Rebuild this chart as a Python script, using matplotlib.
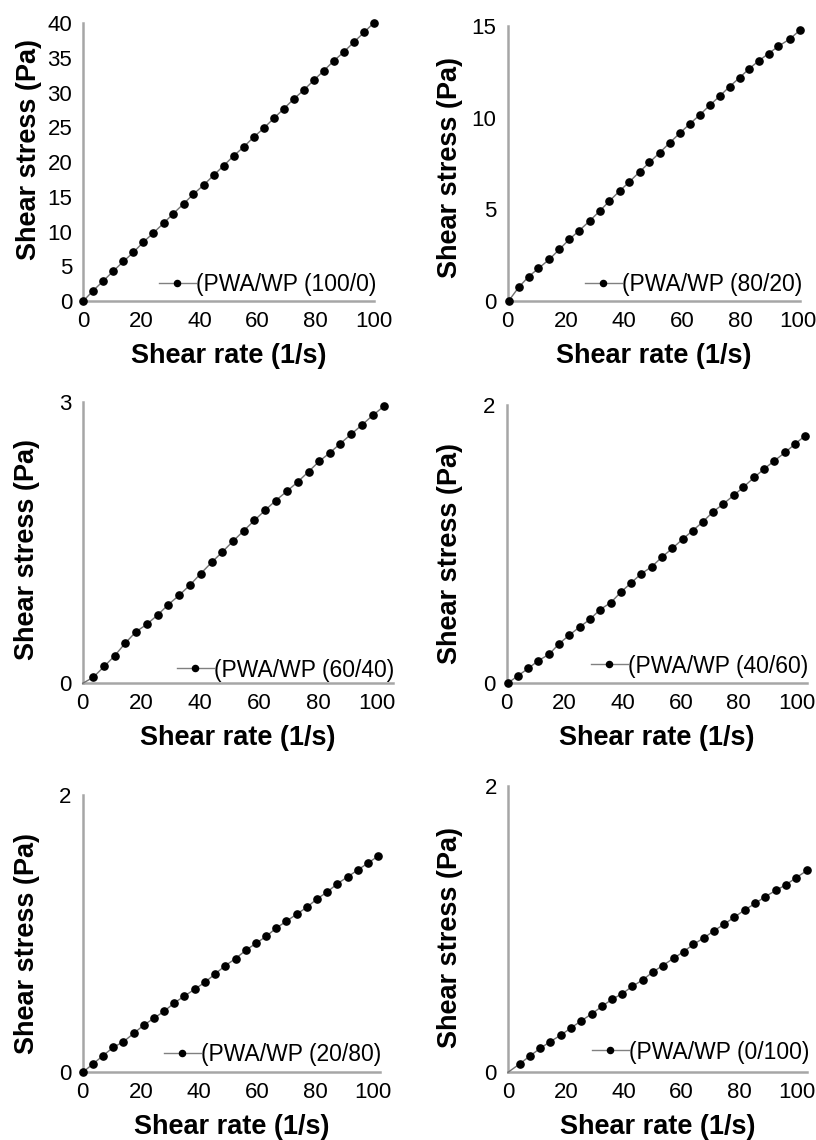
import matplotlib
matplotlib.use("Agg")
import matplotlib.pyplot as plt

plt.rcParams['font.family'] = ['Liberation Sans', 'DejaVu Sans']

# ---- data ----
labels = ["(PWA/WP (100/0)", "(PWA/WP (80/20)", "(PWA/WP (60/40)",
          "(PWA/WP (40/60)", "(PWA/WP (20/80)", "(PWA/WP (0/100)"]

x1 = [0, 3.4, 6.9, 10.3, 13.8, 17.2, 20.7, 24.1, 27.6, 31.0, 34.5, 37.9, 41.4, 44.8, 48.3,
      51.7, 55.2, 58.6, 62.1, 65.5, 69.0, 72.4, 75.9, 79.3, 82.8, 86.2, 89.7, 93.1, 96.6, 100.0]
y1 = [0, 1.5, 2.9, 4.3, 5.7, 7.0, 8.5, 9.8, 11.2, 12.6, 14.0, 15.4, 16.7, 18.1, 19.5,
      20.9, 22.2, 23.6, 24.9, 26.3, 27.7, 29.1, 30.4, 31.8, 33.2, 34.6, 35.9, 37.3, 38.7, 40.1]

x2 = [0.3, 3.8, 7.2, 10.6, 14.3, 17.8, 21.2, 24.6, 28.3, 31.8, 35.0, 38.5, 41.9, 45.4, 48.8,
      52.3, 55.7, 59.2, 62.6, 66.1, 69.5, 73.0, 76.4, 79.8, 82.9, 86.4, 89.8, 93.2, 97.2, 100.6]
y2 = [0, 0.75, 1.33, 1.78, 2.27, 2.82, 3.36, 3.84, 4.38, 4.93, 5.45, 6.0, 6.5, 7.05, 7.56,
      8.09, 8.62, 9.15, 9.65, 10.15, 10.67, 11.18, 11.7, 12.18, 12.64, 13.1, 13.5, 13.9, 14.3, 14.78]

x3 = [0, 3.6, 7.3, 10.9, 14.5, 18.1, 21.8, 25.5, 29.1, 32.8, 36.5, 40.1, 43.8, 47.4, 51.2,
      54.8, 58.4, 62.1, 65.6, 69.4, 73.1, 76.8, 80.4, 84.0, 87.6, 91.3, 95.0, 98.6, 102.5]
y3 = [0, 0.064, 0.18, 0.295, 0.43, 0.55, 0.63, 0.73, 0.84, 0.94, 1.05, 1.17, 1.29, 1.40, 1.52,
      1.63, 1.74, 1.85, 1.95, 2.05, 2.15, 2.26, 2.37, 2.46, 2.56, 2.66, 2.76, 2.86, 2.96]

x4 = [0.3, 3.8, 7.5, 10.9, 14.6, 18.0, 21.6, 25.3, 28.7, 32.2, 35.9, 39.3, 42.8, 46.3, 50.0,
      53.4, 57.1, 60.6, 64.1, 67.6, 71.0, 74.7, 78.2, 81.6, 85.3, 88.7, 92.3, 96.0, 99.4, 102.9]
y4 = [0, 0.053, 0.108, 0.163, 0.208, 0.283, 0.347, 0.407, 0.46, 0.53, 0.58, 0.654, 0.72, 0.786, 0.838,
      0.905, 0.97, 1.035, 1.097, 1.16, 1.23, 1.29, 1.35, 1.41, 1.48, 1.54, 1.60, 1.66, 1.72, 1.78]

x5 = [0, 3.5, 7.0, 10.5, 14.0, 17.5, 21.0, 24.5, 28.0, 31.5, 35.0, 38.6, 42.1, 45.6, 49.1,
      52.6, 56.1, 59.6, 63.1, 66.6, 70.1, 73.6, 77.1, 80.6, 84.1, 87.6, 91.2, 94.7, 98.2, 101.7]
y5 = [0, 0.06, 0.12, 0.18, 0.22, 0.28, 0.34, 0.39, 0.44, 0.50, 0.55, 0.60, 0.65, 0.71, 0.77,
      0.82, 0.88, 0.93, 0.98, 1.04, 1.09, 1.14, 1.19, 1.25, 1.30, 1.36, 1.41, 1.46, 1.51, 1.56]

x6 = [0, 4.0, 7.7, 11.2, 14.6, 18.3, 21.8, 25.4, 29.1, 32.5, 36.0, 39.6, 43.0, 46.6, 50.1,
      53.5, 57.3, 60.8, 64.2, 67.9, 71.4, 74.9, 78.3, 81.9, 85.6, 89.0, 92.7, 96.2, 99.8, 103.5]
y6 = [0, 0.058, 0.116, 0.168, 0.214, 0.26, 0.31, 0.36, 0.41, 0.46, 0.51, 0.55, 0.60, 0.645, 0.70,
      0.745, 0.796, 0.843, 0.894, 0.94, 0.99, 1.036, 1.083, 1.134, 1.18, 1.227, 1.27, 1.31, 1.36, 1.41]

xs = [x1, x2, x3, x4, x5, x6]
ys = [y1, y2, y3, y4, y5, y6]
yticks = [[0, 5, 10, 15, 20, 25, 30, 35, 40], [0, 5, 10, 15], [0, 3], [0, 2], [0, 2], [0, 2]]
ylims = [40, 15, 3, 2, 2, 2]
xmaxes = [100, 100.6, 105.6, 103.4, 102.3, 103.5]
xticks = [0, 20, 40, 60, 80, 100]
marker_start = [0, 0, 1, 0, 0, 1]

# ---- layout (pixels) ----
W, H = 816, 1140
# (x_left, x_right, y_top, y_bottom)
boxes = [(83.3, 374, 23.3, 301), (507.7, 800, 26, 301),
         (82.7, 393.3, 402.3, 683.3), (506.7, 806.7, 405, 683.3),
         (82.7, 380, 795, 1072.3), (508, 807, 786, 1072.3)]
ylabel_pos = [(42, 150), (463, 167), (40, 549), (463, 553), (40, 943), (463, 937)]
legend_pos = [(376, 285), (802, 285), (394, 670), (808, 666), (381, 1055), (809, 1052)]

fig = plt.figure(figsize=(W / 100, H / 100), dpi=100)
spine_col = '#a6a6a6'

for i in range(6):
    xl, xr, yt, yb = boxes[i]
    ax = fig.add_axes([xl / W, 1 - yb / H, (xr - xl) / W, (yb - yt) / H])
    ax.plot(xs[i], ys[i], color='#707070', lw=1.0, marker='o', ms=5.2,
            mfc='black', mec='black', markevery=slice(marker_start[i], None),
            clip_on=False, label=labels[i], zorder=3)
    ax.set_xlim(0, xmaxes[i])
    ax.set_ylim(0, ylims[i])
    ax.set_xticks(xticks)
    ax.set_yticks(yticks[i])
    for s in ['top', 'right']:
        ax.spines[s].set_visible(False)
    for s in ['left', 'bottom']:
        ax.spines[s].set_color(spine_col)
        ax.spines[s].set_linewidth(1.8)
    ax.tick_params(axis='both', length=0, labelsize=16, colors='black')
    ax.tick_params(axis='x', pad=7)
    ax.tick_params(axis='y', pad=8)
    ax.set_xlabel('Shear rate (1/s)', fontsize=19.5, fontweight='bold', labelpad=8)
    ax.set_ylabel('Shear stress (Pa)', fontsize=19.5, fontweight='bold')
    lx, ly = ylabel_pos[i]
    ax.yaxis.set_label_coords(lx / W, 1 - ly / H, transform=fig.transFigure)
    gx, gy = legend_pos[i]
    leg = ax.legend(loc='center right', bbox_to_anchor=(gx / W, 1 - gy / H),
                    bbox_transform=fig.transFigure, frameon=False, fontsize=16.5,
                    handlelength=1.6, handletextpad=0.0, borderpad=0, borderaxespad=0,
                    markerscale=0.85)
    for h in leg.legend_handles:
        h.set_color('#808080')
        h.set_markerfacecolor('black')
        h.set_markeredgecolor('black')

fig.savefig('out.png', dpi=100)
